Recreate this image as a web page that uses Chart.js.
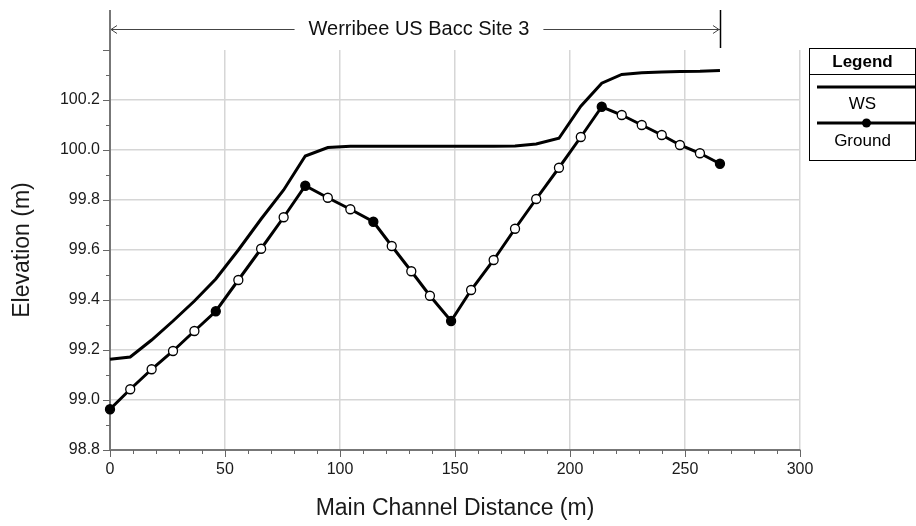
<!DOCTYPE html>
<html lang="en">
<head>
    <meta charset="UTF-8">
    <title>Werribee US Bacc Site 3</title>
    <script src="https://cdn.jsdelivr.net/npm/chart.js"></script>
    <style>
        html, body { margin: 0; padding: 0; background: #fff; }
        #wrap { width: 916px; height: 526px; }
    </style>
</head>
<body>
    <div id="wrap"><canvas id="profile"></canvas></div>
    <script>
        // main channel distance of each cross section (m)
        const distance = [0, 8.8, 18.1, 27.4, 36.7, 46.0, 55.8, 65.7, 75.5, 84.9,
                          94.7, 104.5, 114.5, 122.5, 131.0, 139.1, 148.3, 157.0, 166.8, 176.1,
                          185.3, 195.2, 204.7, 213.8, 222.5, 231.2, 239.9, 247.8, 256.5, 265.2];
        const wsElev = [99.163, 99.172, 99.240, 99.316, 99.396, 99.484, 99.600, 99.724, 99.840, 99.976,
                        100.010, 100.015, 100.015, 100.015, 100.015, 100.015, 100.015, 100.015, 100.015, 100.016,
                        100.024, 100.047, 100.175, 100.267, 100.302, 100.309, 100.312, 100.314, 100.315, 100.318];
        const groundElev = [98.963, 99.043, 99.123, 99.196, 99.276, 99.355, 99.480, 99.605, 99.731, 99.857,
                            99.809, 99.763, 99.713, 99.616, 99.515, 99.417, 99.316, 99.440, 99.560, 99.685,
                            99.804, 99.929, 100.052, 100.173, 100.140, 100.100, 100.060, 100.020, 99.987, 99.945];
        // 1 = surveyed section (filled dot), 0 = interpolated (open dot)
        const surveyed = [1, 0, 0, 0, 0, 1, 0, 0, 0, 1,
                          0, 0, 1, 0, 0, 0, 1, 0, 0, 0,
                          0, 0, 0, 1, 0, 0, 0, 0, 0, 1];
        const seriesNames = ['WS', 'Ground'];
        const reachName = 'Werribee US Bacc Site 3';
        const xTitle = 'Main Channel Distance (m)';
        const yTitle = 'Elevation (m)';

        const FONT = "'Liberation Sans', Arial, sans-serif";
        const isMajorY = v => Math.round(v * 10) % 2 === 0;
        const isMajorX = v => Math.round(v) % 50 === 0;

        // minor / major tick marks, reach arrow and the boxed legend
        const decorations = {
            id: 'decorations',
            afterDraw(chart) {
                const ctx = chart.ctx;
                const xs = chart.scales.x, ys = chart.scales.y;
                const area = chart.chartArea;
                ctx.save();

                ctx.strokeStyle = '#666';
                ctx.lineWidth = 1;
                ys.ticks.forEach(t => {
                    const py = Math.round(ys.getPixelForValue(t.value)) + 0.5;
                    const len = isMajorY(t.value) ? 7 : 4;
                    ctx.beginPath();
                    ctx.moveTo(area.left - len, py);
                    ctx.lineTo(area.left, py);
                    ctx.stroke();
                });
                xs.ticks.forEach(t => {
                    const px = Math.round(xs.getPixelForValue(t.value)) + 0.5;
                    const len = isMajorX(t.value) ? 7 : 4;
                    ctx.beginPath();
                    ctx.moveTo(px, area.bottom);
                    ctx.lineTo(px, area.bottom + len);
                    ctx.stroke();
                });

                // reach extent arrow
                const x0 = xs.getPixelForValue(distance[0]);
                const x1 = xs.getPixelForValue(distance[distance.length - 1]);
                const ay = 29.5;
                ctx.font = '20px ' + FONT;
                ctx.fillStyle = '#111';
                ctx.textAlign = 'center';
                ctx.textBaseline = 'middle';
                const mid = (x0 + x1) / 2 + 4;
                const half = ctx.measureText(reachName).width / 2 + 14;
                ctx.fillText(reachName, mid, ay);
                ctx.strokeStyle = '#444';
                ctx.beginPath();
                ctx.moveTo(x0, ay); ctx.lineTo(mid - half, ay);
                ctx.moveTo(mid + half, ay); ctx.lineTo(x1, ay);
                ctx.moveTo(x0 + 7, ay - 4); ctx.lineTo(x0 + 1, ay); ctx.lineTo(x0 + 7, ay + 4);
                ctx.moveTo(x1 - 7, ay - 4); ctx.lineTo(x1 - 1, ay); ctx.lineTo(x1 - 7, ay + 4);
                ctx.stroke();
                ctx.strokeStyle = '#777';
                ctx.lineWidth = 2;
                ctx.beginPath();
                ctx.moveTo(x0, 10); ctx.lineTo(x0, area.top);
                ctx.stroke();
                ctx.strokeStyle = '#000';
                ctx.lineWidth = 1.5;
                ctx.beginPath();
                ctx.moveTo(Math.round(x1) + 0.5, 10); ctx.lineTo(Math.round(x1) + 0.5, 48);
                ctx.stroke();

                // legend box
                const bx = 809.5, by = 48.5, bw = 106, bh = 112;
                ctx.lineWidth = 1;
                ctx.strokeStyle = '#000';
                ctx.strokeRect(bx, by, bw, bh);
                ctx.beginPath();
                ctx.moveTo(bx, 74.5); ctx.lineTo(bx + bw, 74.5);
                ctx.stroke();
                ctx.fillStyle = '#000';
                ctx.font = 'bold 17px ' + FONT;
                ctx.fillText('Legend', bx + bw / 2, 62);
                ctx.font = '17px ' + FONT;
                ctx.lineWidth = 3;
                ctx.beginPath();
                ctx.moveTo(817, 87); ctx.lineTo(915, 87);
                ctx.moveTo(817, 123); ctx.lineTo(915, 123);
                ctx.stroke();
                ctx.beginPath();
                ctx.arc(866.5, 123, 4.5, 0, Math.PI * 2);
                ctx.fill();
                ctx.fillText(seriesNames[0], bx + bw / 2, 104);
                ctx.fillText(seriesNames[1], bx + bw / 2, 141);
                ctx.restore();
            }
        };

        function renderChart() {
            const ctx = document.getElementById('profile').getContext('2d');
            new Chart(ctx, {
                type: 'line',
                data: {
                    datasets: [{
                        label: seriesNames[0],
                        data: distance.map((d, i) => ({ x: d, y: wsElev[i] })),
                        borderColor: '#000',
                        borderWidth: 3,
                        pointRadius: 0,
                        tension: 0,
                        clip: false
                    }, {
                        label: seriesNames[1],
                        data: distance.map((d, i) => ({ x: d, y: groundElev[i] })),
                        borderColor: '#000',
                        borderWidth: 3,
                        pointRadius: 4.5,
                        pointBorderWidth: 1.3,
                        pointBorderColor: '#000',
                        pointBackgroundColor: surveyed.map(s => s ? '#000' : '#fff'),
                        tension: 0,
                        clip: false
                    }]
                },
                options: {
                    responsive: true,
                    maintainAspectRatio: false,
                    devicePixelRatio: 1,
                    animation: false,
                    layout: { padding: { left: 0, top: 50, right: 116, bottom: 0 } },
                    plugins: { legend: { display: false }, tooltip: { enabled: false } },
                    scales: {
                        x: {
                            type: 'linear',
                            min: 0,
                            max: 300,
                            afterFit: s => { s.height = 76; },
                            border: { color: '#777', width: 2 },
                            grid: {
                                color: c => (c.tick && isMajorX(c.tick.value) && c.tick.value > 0) ? '#d6d6d6' : 'rgba(0,0,0,0)',
                                lineWidth: 1.5,
                                tickLength: 7,
                                tickColor: 'rgba(0,0,0,0)'
                            },
                            ticks: {
                                stepSize: 10,
                                autoSkip: false,
                                maxRotation: 0,
                                padding: 3,
                                color: '#1a1a1a',
                                font: { family: FONT, size: 16 },
                                callback: v => isMajorX(v) ? String(Math.round(v)) : ''
                            },
                            title: {
                                display: true,
                                text: xTitle,
                                color: '#1a1a1a',
                                font: { family: FONT, size: 23 },
                                padding: { top: 0, bottom: 4 }
                            }
                        },
                        y: {
                            type: 'linear',
                            min: 98.8,
                            max: 100.4,
                            afterFit: s => { s.width = 110; },
                            border: { color: '#777', width: 2 },
                            grid: {
                                color: c => (c.tick && isMajorY(c.tick.value) && c.tick.value > 98.9 && c.tick.value < 100.3) ? '#d6d6d6' : 'rgba(0,0,0,0)',
                                lineWidth: 1.5,
                                tickLength: 7,
                                tickColor: 'rgba(0,0,0,0)'
                            },
                            ticks: {
                                stepSize: 0.1,
                                maxTicksLimit: 100,
                                autoSkip: false,
                                padding: 3,
                                color: '#1a1a1a',
                                font: { family: FONT, size: 16 },
                                callback: v => (isMajorY(v) && v < 100.3) ? v.toFixed(1) : ''
                            },
                            title: {
                                display: true,
                                text: yTitle,
                                color: '#1a1a1a',
                                font: { family: FONT, size: 23 },
                                padding: { top: 9, bottom: 0 }
                            }
                        }
                    }
                },
                plugins: [decorations]
            });
        }

        window.onload = renderChart;
    </script>
</body>
</html>
